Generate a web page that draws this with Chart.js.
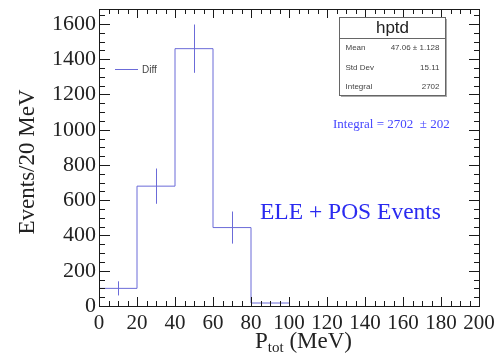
<!DOCTYPE html>
<html>
<head>
<meta charset="utf-8">
<script src="https://cdn.jsdelivr.net/npm/chart.js@4.4.1/dist/chart.umd.min.js"></script>
<style>
    html, body { margin: 0; padding: 0; background: #fff; }
</style>
</head>
<body>
<canvas id="hist" width="499" height="354"></canvas>
<script>
// histogram hptd: P_tot bins (MeV), contents and errors
const binEdges = [0, 20, 40, 60, 80, 100];
const binCounts = [100, 680, 1460, 445, 17];
const binErrors = [40, 100, 137, 91, 9];

const xTickLabels = [0, 20, 40, 60, 80, 100, 120, 140, 160, 180, 200];
const yTickLabels = [0, 200, 400, 600, 800, 1000, 1200, 1400, 1600];

const statsTitle = 'hptd';
const statsNames = ['Mean', 'Std Dev', 'Integral'];
const statsValues = ['47.06 \u00b1 1.128', '15.11', '2702'];

const lineColor = '#6b6bd8';
const serif = '"Liberation Serif", "DejaVu Serif", serif';
const sans = '"Liberation Sans", Arial, sans-serif';

// outline points: one per bin left edge, plus the last right edge
function histPoints() {
    let pts = binCounts.map((c, i) => ({ x: binEdges[i], y: c }));
    pts.push({ x: binEdges[binEdges.length - 1], y: binCounts[binCounts.length - 1] });
    return pts;
}

const rootStyle = {
    id: 'rootStyle',
    afterDatasetsDraw(chart) {
        const ctx = chart.ctx;
        const xs = chart.scales.x;
        const ys = chart.scales.y;
        const area = chart.chartArea;
        ctx.save();

        // error bars at bin centres
        ctx.fillStyle = lineColor;
        binCounts.forEach((c, i) => {
            let xc = Math.round(xs.getPixelForValue((binEdges[i] + binEdges[i + 1]) / 2));
            let y1 = ys.getPixelForValue(c + binErrors[i]);
            let y2 = ys.getPixelForValue(c - binErrors[i]);
            ctx.fillRect(xc, y1, 1, y2 - y1);
        });

        // frame
        ctx.fillStyle = '#1a1a1a';
        let L = Math.round(area.left), R = Math.round(area.right);
        let T = Math.round(area.top), B = Math.round(area.bottom);
        ctx.fillRect(L, T, R - L + 1, 1);
        ctx.fillRect(L, B, R - L + 1, 1);
        ctx.fillRect(L, T, 1, B - T + 1);
        ctx.fillRect(R, T, 1, B - T + 1);

        // ticks on all four sides, pointing inward
        for (let v = 0; v <= 200; v += 5) {
            let px = Math.round(xs.getPixelForValue(v));
            let len = v % 20 === 0 ? 9 : 5;
            ctx.fillRect(px, B - len, 1, len);
            ctx.fillRect(px, T, 1, len);
        }
        for (let v = 0; v <= 1650; v += 50) {
            let py = Math.round(ys.getPixelForValue(v));
            let len = v % 200 === 0 ? 11 : 6;
            ctx.fillRect(L, py, len, 1);
            ctx.fillRect(R - len + 1, py, len, 1);
        }

        // legend entry
        ctx.fillStyle = lineColor;
        ctx.fillRect(115, 69, 23, 1);
        ctx.fillStyle = '#444';
        ctx.font = '10px ' + sans;
        ctx.textAlign = 'left';
        ctx.textBaseline = 'middle';
        ctx.fillText('Diff', 142, 70);

        // stats box
        ctx.fillStyle = '#aaa';
        ctx.fillRect(341, 19, 106, 78);
        ctx.fillStyle = '#fff';
        ctx.fillRect(339.5, 17.5, 106, 78);
        ctx.strokeStyle = '#666';
        ctx.lineWidth = 1;
        ctx.strokeRect(339.5, 17.5, 106, 78);
        ctx.beginPath();
        ctx.moveTo(339.5, 38.5); ctx.lineTo(445.5, 38.5);
        ctx.stroke();
        ctx.fillStyle = '#222';
        ctx.font = '17px ' + sans;
        ctx.textAlign = 'center';
        ctx.fillText(statsTitle, 392.5, 28);
        ctx.font = '8px ' + sans;
        ctx.fillStyle = '#444';
        statsNames.forEach((name, i) => {
            let y = 48 + i * 19.5;
            ctx.textAlign = 'left';
            ctx.fillText(name, 345.5, y);
            ctx.textAlign = 'right';
            ctx.fillText(statsValues[i], 439.5, y);
        });

        // fit result and sample label
        ctx.fillStyle = '#4646ff';
        ctx.font = '13px ' + serif;
        ctx.textAlign = 'left';
        ctx.fillText('Integral = 2702  \u00b1 202', 333, 125);
        ctx.fillStyle = '#2a2af0';
        ctx.font = '23.5px ' + serif;
        ctx.fillText('ELE + POS Events', 260, 213);

        // axis titles
        ctx.fillStyle = '#222';
        ctx.font = '23px ' + serif;
        ctx.save();
        ctx.translate(28, 162);
        ctx.rotate(-Math.PI / 2);
        ctx.textAlign = 'center';
        ctx.fillText('Events/20 MeV', 0, 0);
        ctx.restore();

        ctx.textAlign = 'left';
        ctx.textBaseline = 'alphabetic';
        let x0 = 255;
        ctx.font = '23px ' + serif;
        ctx.fillText('P', x0, 348);
        x0 += ctx.measureText('P').width;
        ctx.font = '15px ' + serif;
        ctx.fillText('tot', x0, 352);
        x0 += ctx.measureText('tot').width;
        ctx.font = '23px ' + serif;
        ctx.fillText(' (MeV)', x0, 348);

        ctx.restore();
    }
};

const chart = new Chart(document.getElementById('hist'), {
    type: 'line',
    data: {
        datasets: [{
            label: 'Diff',
            data: histPoints(),
            stepped: 'before',
            borderColor: lineColor,
            borderWidth: 1,
            pointRadius: 0,
            fill: false
        }]
    },
    options: {
        responsive: false,
        animation: false,
        layout: { padding: { top: 9, right: 20, left: 0, bottom: 0 } },
        plugins: {
            legend: { display: false },
            tooltip: { enabled: false }
        },
        scales: {
            x: {
                type: 'linear',
                min: 0,
                max: 200,
                grid: { display: false, drawTicks: false },
                border: { display: false },
                afterBuildTicks: s => { s.ticks = xTickLabels.map(v => ({ value: v })); },
                afterFit: s => { s.height = 48; s.paddingLeft = 0; s.paddingRight = 0; },
                ticks: {
                    autoSkip: false,
                    maxRotation: 0,
                    padding: 5,
                    color: '#222',
                    font: { family: serif, size: 21 },
                    callback: v => String(v)
                }
            },
            y: {
                type: 'linear',
                min: 0,
                max: 1685,
                grid: { display: false, drawTicks: false },
                border: { display: false },
                afterBuildTicks: s => { s.ticks = yTickLabels.map(v => ({ value: v })); },
                afterFit: s => { s.width = 99; s.paddingTop = 0; s.paddingBottom = 0; },
                ticks: {
                    padding: 3,
                    color: '#222',
                    font: { family: serif, size: 22 },
                    callback: v => String(v)
                }
            }
        }
    },
    plugins: [rootStyle]
});
</script>
</body>
</html>
